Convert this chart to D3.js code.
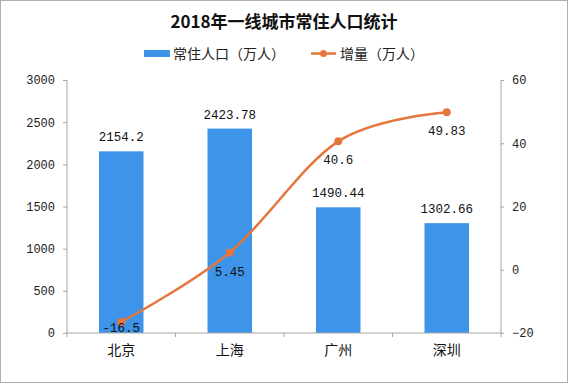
<!DOCTYPE html>
<html>
<head>
<meta charset="utf-8">
<script src="https://cdn.jsdelivr.net/npm/d3@7"></script>
<style>
  html, body { margin: 0; padding: 0; background: #fff; }
  svg { display: block; }
</style>
</head>
<body>
<svg id="chart" width="568" height="383"></svg>
<script>
const title = "2018年一线城市常住人口统计";
const categories = ["北京", "上海", "广州", "深圳"];
const population = [2154.2, 2423.78, 1490.44, 1302.66];
const increase = [-16.5, 5.45, 40.6, 49.83];
const leftTicks = [0, 500, 1000, 1500, 2000, 2500, 3000];
const rightTicks = [-20, 0, 20, 40, 60];
const seriesNames = ["常住人口（万人）", "增量（万人）"];

const W = 568, H = 383;
const plotL = 67, plotR = 501, plotT = 80, plotB = 333;
const barColor = "#3d94e8";
const lineColor = "#e5763d";
const axisColor = "#a6a6a6";
const cjk = "'Noto Sans CJK SC', 'Noto Sans', sans-serif";
const mono = "'Liberation Mono', 'DejaVu Sans Mono', monospace";

const svg = d3.select("#chart");

// frame
svg.append("rect").attr("x", 0.5).attr("y", 0.5).attr("width", W - 1).attr("height", H - 1)
  .attr("fill", "#fff").attr("stroke", "#b0b0b0");

const x = d3.scaleBand().domain(categories).range([plotL, plotR]).padding(0);
const yL = d3.scaleLinear().domain([0, 3000]).range([plotB, plotT]);
const yR = d3.scaleLinear().domain([-20, 60]).range([plotB, plotT]);

// title
svg.append("text").attr("x", 284).attr("y", 28).attr("text-anchor", "middle")
  .attr("font-family", cjk).attr("font-weight", "bold").attr("font-size", 17)
  .attr("fill", "#111").text(title);

// legend
const lg = svg.append("g").attr("font-family", cjk).attr("font-size", 14).attr("fill", "#222");
lg.append("rect").attr("x", 144).attr("y", 50).attr("width", 26).attr("height", 7).attr("fill", barColor);
lg.append("text").attr("x", 173).attr("y", 59).text(seriesNames[0]);
lg.append("line").attr("x1", 311).attr("x2", 336).attr("y1", 53.5).attr("y2", 53.5)
  .attr("stroke", lineColor).attr("stroke-width", 2.5);
lg.append("circle").attr("cx", 323.5).attr("cy", 53.5).attr("r", 3.5).attr("fill", lineColor);
lg.append("text").attr("x", 340).attr("y", 59).text(seriesNames[1]);

// bars
const barW = x.bandwidth() * 0.41;
svg.append("g").selectAll("rect").data(categories).join("rect")
  .attr("x", (d) => x(d) + x.bandwidth() / 2 - barW / 2)
  .attr("y", (d, i) => yL(population[i]))
  .attr("width", barW)
  .attr("height", (d, i) => plotB - yL(population[i]))
  .attr("fill", barColor);

// left axis
const axL = svg.append("g").attr("transform", `translate(${plotL},0)`)
  .call(d3.axisLeft(yL).tickValues(leftTicks).tickFormat(d3.format("d")).tickSize(4).tickPadding(8));
// right axis
const axR = svg.append("g").attr("transform", `translate(${plotR},0)`)
  .call(d3.axisRight(yR).tickValues(rightTicks).tickFormat(d3.format("d")).tickSize(3).tickPadding(8));
// bottom axis (ticks at category boundaries)
const axB = svg.append("g").attr("transform", `translate(0,${plotB})`)
  .call(d3.axisBottom(x).tickSize(0).tickPadding(12));
axB.selectAll(".tick text").attr("font-family", cjk).attr("font-size", 14).attr("fill", "#111");
const bounds = categories.map((c) => x(c)).concat([plotR]);
axB.selectAll("line.bound").data(bounds).join("line").attr("class", "bound")
  .attr("x1", (d) => d).attr("x2", (d) => d).attr("y1", 0).attr("y2", 4)
  .attr("stroke", axisColor);

[axL, axR].forEach((a) => {
  a.selectAll(".tick text").attr("font-family", mono).attr("font-size", 12).attr("fill", "#222");
});
[axL, axR, axB].forEach((a) => {
  a.select(".domain").attr("stroke", axisColor);
  a.selectAll(".tick line").attr("stroke", axisColor);
});
axL.select(".domain").attr("d", `M0,${plotT}V${plotB}`);
axR.select(".domain").attr("d", `M0,${plotT}V${plotB}`);
axB.select(".domain").attr("d", `M${plotL},0H${plotR}`);

// bar labels
svg.append("g").selectAll("text").data(categories).join("text")
  .attr("x", (d) => x(d) + x.bandwidth() / 2)
  .attr("y", (d, i) => yL(population[i]) - 10)
  .attr("text-anchor", "middle")
  .attr("font-family", mono).attr("font-size", 12.5).attr("fill", "#111")
  .text((d, i) => population[i]);

// line
const pts = categories.map((c, i) => [x(c) + x.bandwidth() / 2, yR(increase[i])]);
svg.append("path").datum(pts)
  .attr("d", d3.line().curve(d3.curveCardinal.tension(0)))
  .attr("fill", "none").attr("stroke", lineColor).attr("stroke-width", 2.5);
svg.append("g").selectAll("circle").data(pts).join("circle")
  .attr("cx", (d) => d[0]).attr("cy", (d) => d[1]).attr("r", 4).attr("fill", lineColor);

// line labels
svg.append("g").selectAll("text").data(pts).join("text")
  .attr("x", (d) => d[0])
  .attr("y", (d) => Math.min(d[1] + 23, plotB - 1))
  .attr("text-anchor", "middle")
  .attr("font-family", mono).attr("font-size", 12.5).attr("fill", "#111")
  .text((d, i) => increase[i]);
</script>
</body>
</html>
